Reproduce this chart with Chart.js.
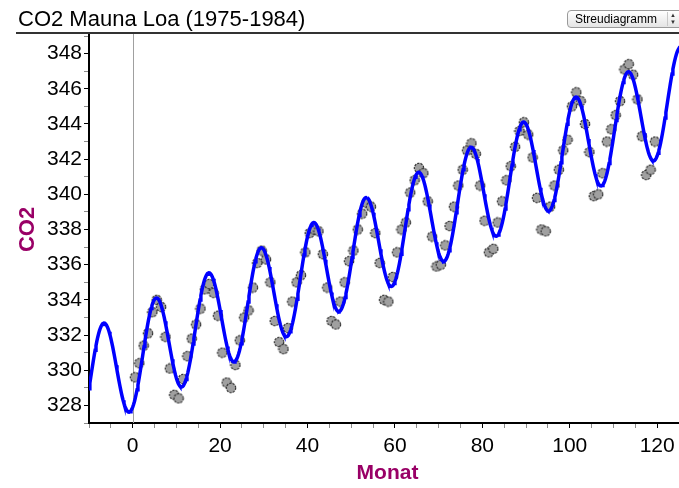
<!DOCTYPE html>
<html>
<head>
<meta charset="utf-8">
<script src="https://cdn.jsdelivr.net/npm/chart.js@4/dist/chart.umd.min.js"></script>
<style>
  html, body { margin: 0; padding: 0; background: #fff; overflow: hidden; }
  #wrap { position: relative; width: 679px; height: 488px; overflow: hidden; }
  #chart { position: absolute; left: 0; top: 0; }
  #title { position: absolute; left: 18px; top: 8px; font: 22px "Liberation Sans", Arial, sans-serif; line-height: 22px; color: #000; white-space: nowrap; }
  #rule { position: absolute; left: 16px; right: 0; top: 32px; height: 2px; background: #333; }
  #mode { position: absolute; left: 567px; top: 10px; width: 118px; height: 18px; box-sizing: border-box;
          border: 1px solid #9a9a9a; border-radius: 4px; background: linear-gradient(#ffffff, #e4e4e4);
          font: 12px "Liberation Sans", Arial, sans-serif; line-height: 16px; padding-left: 7px; color: #000; }
  #mode .spin { position: absolute; left: 99px; top: 1px; width: 10px; height: 14px; border-left: 1px solid #c8c8c8;
                font-size: 6px; line-height: 7px; text-align: center; color: #333; }
</style>
</head>
<body>
<div id="wrap">
  <canvas id="chart" width="692" height="488" style="width:692px;height:488px"></canvas>
  <div id="title">CO2 Mauna Loa (1975-1984)</div>
  <div id="rule"></div>
  <div id="mode">Streudiagramm<div class="spin">▲<br>▼</div></div>
</div>
<script>
// monthly CO2 (ppm), Dec 1974 .. Nov 1984
const dec1974 = [329.6];
const y1975 = [330.4, 331.4, 332.1, 333.3, 334.0, 333.6, 331.9, 330.1, 328.6, 328.4, 329.5, 330.8];
const y1976 = [331.8, 332.6, 333.5, 334.6, 334.9, 334.4, 333.1, 331.0, 329.3, 329.0, 330.3, 331.7];
const y1977 = [333.0, 333.4, 334.7, 336.1, 336.8, 336.3, 335.0, 332.8, 331.6, 331.2, 332.4, 333.9];
const y1978 = [335.0, 335.4, 336.7, 337.8, 338.0, 337.9, 336.6, 334.7, 332.8, 332.6, 333.9, 335.0];
const y1979 = [336.2, 336.8, 338.0, 338.9, 339.5, 339.3, 337.8, 336.1, 334.0, 333.9, 335.3, 336.7];
const y1980 = [338.0, 338.4, 340.1, 340.8, 341.5, 341.2, 339.6, 337.6, 335.9, 336.0, 337.1, 338.2];
const y1981 = [339.3, 340.5, 341.4, 342.5, 342.9, 342.3, 340.5, 338.5, 336.7, 336.9, 338.4, 339.6];
const y1982 = [340.8, 341.6, 342.7, 343.6, 344.1, 343.4, 342.1, 339.8, 338.0, 337.9, 339.3, 340.5];
const y1983 = [341.4, 342.5, 343.1, 345.0, 345.8, 345.3, 344.0, 342.4, 339.9, 340.0, 341.2, 343.0];
const y1984 = [343.7, 344.5, 345.3, 347.1, 347.4, 346.8, 345.4, 343.3, 341.1, 341.4, 343.0];

// first month sits half a month right of the 0 line
const firstMonth = 0.5;

// fitted curve: base + trend*x + amp*sin(2pi(x-shift)/period)
const fitBase = 330.59;
const fitTrend = 0.119;
const fitAmp = 2.88;
const fitPeriod = 12;
const fitShift = 2.3;

const xMin = -10, xMax = 126.6;
const yMin = 327, yMax = 349;

const co2 = [].concat(dec1974, y1975, y1976, y1977, y1978, y1979, y1980, y1981, y1982, y1983, y1984);
const points = co2.map((v, i) => ({ x: firstMonth + i, y: v }));

const curve = [];
for (let x = xMin; x <= xMax + 0.001; x += 0.2) {
    curve.push({ x: x, y: fitBase + fitTrend * x + fitAmp * Math.sin(2 * Math.PI * (x - fitShift) / fitPeriod) });
}

// grey dot with dotted dark outline
function makeDot() {
    const c = document.createElement('canvas');
    c.width = 12; c.height = 12;
    const g = c.getContext('2d');
    g.beginPath();
    g.arc(6, 6, 4.7, 0, Math.PI * 2);
    g.fillStyle = '#a0a0a0';
    g.fill();
    g.setLineDash([2.2, 1.1]);
    g.lineWidth = 1.1;
    g.strokeStyle = '#222';
    g.stroke();
    return c;
}

const purple = '#990066';
const tickFont = { family: '"Liberation Sans", Arial, sans-serif', size: 21 };

const extraLines = {
    id: 'extraLines',
    beforeDatasetsDraw(chart) {
        const { ctx, chartArea, scales } = chart;
        const x0 = Math.round(scales.x.getPixelForValue(0)) + 0.5;
        ctx.save();
        ctx.strokeStyle = '#a0a0a0';
        ctx.lineWidth = 1;
        ctx.beginPath();
        ctx.moveTo(x0, 33);
        ctx.lineTo(x0, chartArea.bottom);
        ctx.stroke();
        ctx.restore();
    },
    afterDraw(chart) {
        const { ctx, chartArea } = chart;
        ctx.save();
        ctx.strokeStyle = '#000';
        ctx.lineWidth = 2;
        ctx.beginPath();
        ctx.moveTo(chartArea.left, 33);
        ctx.lineTo(chartArea.left, chartArea.top + 2);
        ctx.stroke();
        ctx.restore();
    }
};

new Chart(document.getElementById('chart'), {
    data: {
        datasets: [
            {
                type: 'line',
                data: curve,
                borderColor: '#0000ff',
                borderWidth: 3.5,
                pointRadius: 0,
                tension: 0,
                order: 0
            },
            {
                type: 'scatter',
                data: points,
                pointStyle: makeDot(),
                pointRadius: 5,
                order: 1
            }
        ]
    },
    options: {
        responsive: false,
        animation: false,
        events: [],
        layout: { padding: { top: 36, left: 0, right: 0, bottom: 0 } },
        plugins: { legend: { display: false }, tooltip: { enabled: false } },
        scales: {
            x: {
                type: 'linear',
                min: xMin,
                max: xMax,
                afterFit(scale) { scale.height = 65; scale.paddingLeft = 0; scale.paddingRight = 0; },
                border: { display: true, color: '#000', width: 2 },
                grid: {
                    drawOnChartArea: false,
                    drawTicks: true,
                    tickLength: 5,
                    tickColor: c => (c.tick && c.tick.value % 20 === 0) ? '#000' : '#8a8a8a'
                },
                ticks: {
                    stepSize: 5,
                    includeBounds: false,
                    autoSkip: false,
                    maxRotation: 0,
                    padding: 6,
                    color: '#000',
                    font: tickFont,
                    callback: v => (v % 20 === 0 ? String(v) : '')
                },
                title: {
                    display: true,
                    text: 'Monat',
                    color: purple,
                    font: { family: '"Liberation Sans", Arial, sans-serif', size: 21, weight: 'bold' },
                    padding: { top: 0, bottom: 2 }
                }
            },
            y: {
                type: 'linear',
                min: yMin,
                max: yMax,
                afterFit(scale) { scale.width = 89; },
                border: { display: true, color: '#000', width: 2 },
                grid: {
                    drawOnChartArea: false,
                    drawTicks: true,
                    tickLength: 5,
                    tickColor: c => (c.tick && c.tick.value % 2 === 0) ? '#000' : '#8a8a8a'
                },
                ticks: {
                    stepSize: 1,
                    autoSkip: false,
                    padding: 2,
                    color: '#000',
                    font: tickFont,
                    callback: v => (v % 2 === 0 ? String(v) : '')
                },
                title: {
                    display: true,
                    text: 'CO2',
                    color: purple,
                    font: { family: '"Liberation Sans", Arial, sans-serif', size: 22, weight: 'bold' },
                    padding: { top: 15, bottom: 0 }
                }
            }
        }
    },
    plugins: [extraLines]
});
</script>
</body>
</html>
